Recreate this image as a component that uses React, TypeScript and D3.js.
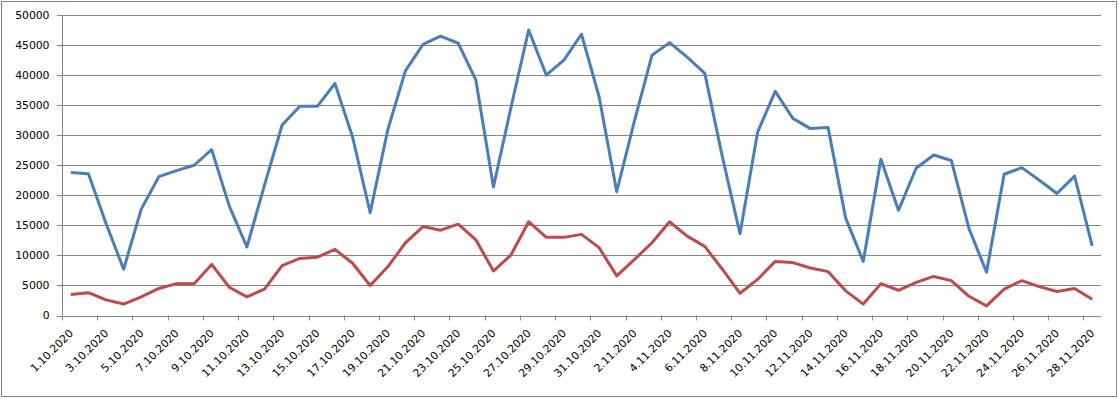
import React, { useEffect } from 'react';
import * as d3 from 'd3';

const days: string[] = [
  ...d3.range(1, 32).map((d) => `${d}.10.2020`),
  ...d3.range(1, 29).map((d) => `${d}.11.2020`),
];

const seriesBlue: number[] = [
  23800, 23600, 15300, 7700, 17700, 23100, 24100, 25000, 27600, 18200,
  11400, 21700, 31700, 34800, 34800, 38600, 29700, 17100, 30900, 40700,
  45100, 46500, 45300, 39200, 21400, 34700, 47500, 40000, 42500, 46800,
  36400, 20600, 32300, 43300, 45400, 43000, 40300, 26400, 13600, 30500,
  37300, 32800, 31100, 31300, 16200, 9000, 26000, 17500, 24500, 26700,
  25800, 14500, 7200, 23500, 24600, 22500, 20300, 23200, 11600,
];

const seriesRed: number[] = [
  3500, 3800, 2600, 1900, 3100, 4500, 5300, 5300, 8500, 4700,
  3100, 4400, 8300, 9500, 9700, 11000, 8700, 5000, 8100, 12100,
  14800, 14200, 15200, 12600, 7400, 10100, 15600, 13000, 13000, 13500,
  11300, 6600, 9300, 12100, 15600, 13200, 11500, 7700, 3700, 6000,
  9000, 8800, 7900, 7300, 4100, 1900, 5300, 4200, 5500, 6500,
  5800, 3200, 1600, 4400, 5800, 4800, 4000, 4500, 2700,
];

const yTicks: number[] = [0, 5000, 10000, 15000, 20000, 25000, 30000, 35000, 40000, 45000, 50000];

const W = 1119;
const H = 399;
const left = 62;
const right = 1101;
const top = 15;
const bottom = 315.5;
const grey = '#868686';
const font = 'DejaVu Sans, Verdana, sans-serif';

export default function App() {
  useEffect(() => {
    document.body.style.margin = '0';
  }, []);

  const x = d3.scaleBand<number>().domain(d3.range(days.length)).range([left, right]).padding(0);
  const y = d3.scaleLinear().domain([0, 50000]).range([bottom, top]);
  const cx = (i: number) => (x(i) as number) + x.bandwidth() / 2;

  const line = d3
    .line<number>()
    .x((_, i) => cx(i))
    .y((d) => y(d));

  const tickIdx = d3.range(0, days.length, 2);

  return (
    <svg width={W} height={H} style={{ display: 'block', background: '#fff' }}>
      <rect x={1.5} y={1.5} width={1115} height={395} fill="#fff" stroke={grey} strokeWidth={1} />
      {yTicks.map((t) => (
        <g key={t}>
          <line x1={left - 5} x2={right} y1={Math.round(y(t)) + 0.5} y2={Math.round(y(t)) + 0.5} stroke={grey} strokeWidth={1} />
          <text x={49.5} y={y(t)} dy="0.36em" textAnchor="end" fontFamily={font} fontSize={10.8} fill="#000">
            {t}
          </text>
        </g>
      ))}
      <line x1={left + 0.5} x2={left + 0.5} y1={top} y2={bottom} stroke={grey} strokeWidth={1} />
      {tickIdx.map((i) => (
        <line key={i} x1={Math.round(x(i) as number) + 0.5} x2={Math.round(x(i) as number) + 0.5} y1={bottom} y2={bottom + 5} stroke={grey} strokeWidth={1} />
      ))}
      {tickIdx.map((i) => (
        <text
          key={i}
          transform={`translate(${cx(i) + 3},${334}) rotate(-45)`}
          textAnchor="end"
          fontFamily={font}
          fontSize={10.8}
          fill="#000"
        >
          {days[i]}
        </text>
      ))}
      <path d={line(seriesBlue) || ''} fill="none" stroke="#4A7EBB" strokeWidth={3} strokeLinejoin="round" />
      <path d={line(seriesRed) || ''} fill="none" stroke="#BE4B48" strokeWidth={3} strokeLinejoin="round" />
    </svg>
  );
}
